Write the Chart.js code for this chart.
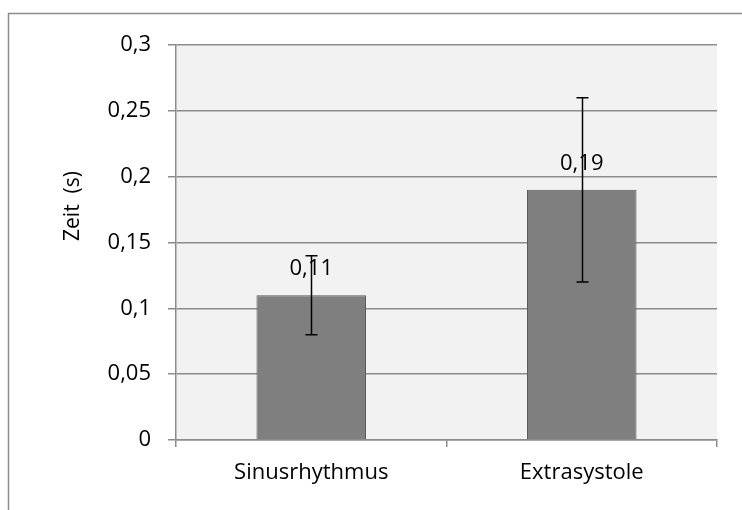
<!DOCTYPE html>
<html>
<head>
<meta charset="utf-8">
<script src="https://cdn.jsdelivr.net/npm/chart.js@4.4.1/dist/chart.umd.min.js"></script>
<style>
  html, body { margin: 0; padding: 0; background: #ffffff; }
  #wrap { width: 742px; height: 510px; position: relative; }
</style>
</head>
<body>
<div id="wrap"><canvas id="zeitChart" width="742" height="510"></canvas></div>
<script>
const categories = ['Sinusrhythmus', 'Extrasystole'];
const meanValues = [0.11, 0.19];
const errorValues = [0.03, 0.07];
const valueLabels = ['0,11', '0,19'];
const yTicks = [0, 0.05, 0.1, 0.15, 0.2, 0.25, 0.3];
const yTitle = 'Zeit  (s)';

const FONT = '"Open Sans", "DejaVu Sans", sans-serif';

function formatTick(v) {
  return String(+v.toFixed(2)).replace('.', ',');
}

// grey plot background, outer frame and the y title (Excel puts it above centre)
const backgroundPlugin = {
  id: 'plotBackground',
  beforeDraw(chart) {
    const { ctx, chartArea } = chart;
    ctx.save();
    ctx.fillStyle = '#f2f2f2';
    ctx.fillRect(chartArea.left, chartArea.top, chartArea.right - chartArea.left, chartArea.bottom - chartArea.top);
    ctx.strokeStyle = '#8c8c8c';
    ctx.lineWidth = 1.5;
    ctx.strokeRect(8.5, 13.5, 900, 700);
    ctx.translate(73, 206);
    ctx.rotate(-Math.PI / 2);
    ctx.fillStyle = '#000';
    ctx.font = '21px ' + FONT;
    ctx.textAlign = 'center';
    ctx.textBaseline = 'middle';
    ctx.fillText(yTitle, 0, 0);
    ctx.restore();
  }
};

// error bars and value labels
const errorBarPlugin = {
  id: 'errorBars',
  afterDatasetsDraw(chart) {
    const { ctx } = chart;
    const yScale = chart.scales.y;
    const meta = chart.getDatasetMeta(0);
    ctx.save();
    meta.data.forEach((bar, i) => {
      const x = Math.round(bar.x) + 0.5;
      const yHigh = yScale.getPixelForValue(meanValues[i] + errorValues[i]);
      const yLow = yScale.getPixelForValue(meanValues[i] - errorValues[i]);
      ctx.fillStyle = '#000';
      ctx.font = '22px ' + FONT;
      ctx.textAlign = 'center';
      ctx.textBaseline = 'middle';
      ctx.fillText(valueLabels[i], bar.x, bar.y - 26);
      ctx.strokeStyle = '#000';
      ctx.lineWidth = 1.5;
      ctx.beginPath();
      ctx.moveTo(x, yHigh);
      ctx.lineTo(x, yLow);
      ctx.moveTo(x - 6, yHigh);
      ctx.lineTo(x + 6, yHigh);
      ctx.moveTo(x - 6, yLow);
      ctx.lineTo(x + 6, yLow);
      ctx.stroke();
    });
    ctx.restore();
  }
};

new Chart(document.getElementById('zeitChart'), {
  type: 'bar',
  data: {
    labels: categories,
    datasets: [{
      data: meanValues,
      backgroundColor: '#7f7f7f',
      borderColor: '#5a5a5a',
      borderWidth: 1,
      categoryPercentage: 1,
      barPercentage: 0.405
    }]
  },
  options: {
    responsive: false,
    animation: false,
    layout: { padding: { left: 8, top: 45, right: 25, bottom: 0 } },
    plugins: {
      legend: { display: false },
      tooltip: { enabled: false }
    },
    scales: {
      y: {
        min: 0,
        max: 0.3,
        afterBuildTicks(scale) {
          scale.ticks = yTicks.map(v => ({ value: v }));
        },
        afterFit(scale) {
          scale.width = 176 - 8;
        },
        border: { display: true, color: '#8c8c8c', width: 1.5 },
        grid: { color: '#8c8c8c', lineWidth: 1.5, tickLength: 8 },
        ticks: {
          color: '#000',
          padding: 17,
          font: { family: FONT, size: 22 },
          callback: v => formatTick(v)
        }
      },
      x: {
        afterFit(scale) {
          scale.height = 70;
        },
        border: { display: true, color: '#8c8c8c', width: 1.5 },
        grid: { drawOnChartArea: false, color: '#8c8c8c', lineWidth: 1.5, tickLength: 7, offset: true },
        ticks: {
          color: '#000',
          padding: 13,
          font: { family: FONT, size: 22 }
        }
      }
    }
  },
  plugins: [backgroundPlugin, errorBarPlugin]
});
</script>
</body>
</html>
